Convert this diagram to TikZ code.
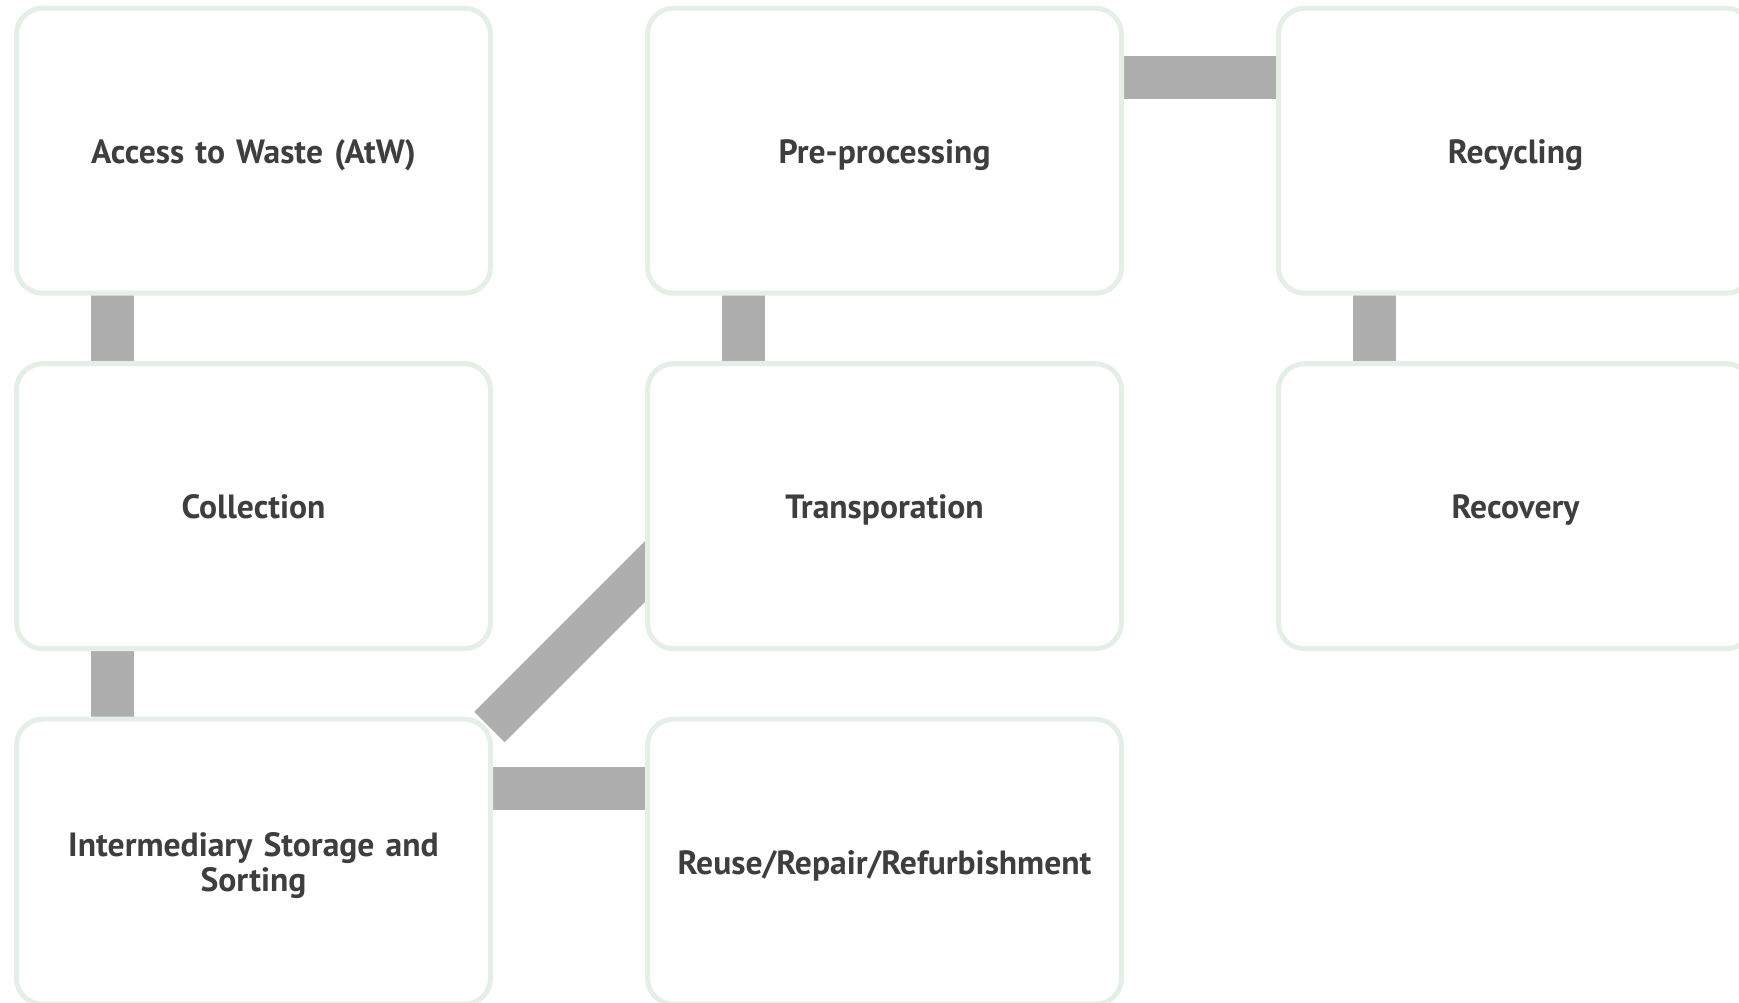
\documentclass[tikz,border=0pt]{standalone}
\usepackage{fontspec}
\setmainfont{PT Sans}
\usetikzlibrary{backgrounds,calc}
\definecolor{boxline}{RGB}{228,240,230}
\definecolor{connfill}{RGB}{174,174,174}
\definecolor{txt}{RGB}{62,62,62}
\newcommand{\boxstrut}{\rule[-4pt]{0pt}{20.5pt}}
\newcommand{\boxstrutend}{\rule[-4pt]{0pt}{4pt}}
\tikzset{
  stagebox/.style={draw=boxline, line width=2.5pt, fill=white, rounded corners=13pt,
    minimum width=237pt, minimum height=142.5pt, inner sep=0pt, outer sep=0pt,
    align=center, text width=230pt, text=txt,
    font=\fontsize{16.8}{17.25}\selectfont\bfseries,
    execute at begin node=\boxstrut, execute at end node=\boxstrutend},
  conn/.style={draw=connfill, line width=21.5pt, line cap=butt}
}
\begin{document}
\begin{tikzpicture}[x=0.5pt,y=-0.5pt]
\useasboundingbox (0,0) rectangle (1739,1002);
\clip (0,0) rectangle (1739,1002);
\node[stagebox] (atw) at (253.5,150.7) {Access to Waste (AtW)};
\node[stagebox] (col) at (253.5,506.2) {Collection};
\node[stagebox] (iss) at (253.5,861.7) {Intermediary Storage and\\Sorting};
\node[stagebox] (pre) at (884.5,150.7) {Pre-processing};
\node[stagebox] (tra) at (884.5,506.2) {Transporation};
\node[stagebox] (reu) at (884.5,861.7) {Reuse/Repair/Refurbishment};
\node[stagebox] (rec) at (1515.5,150.7) {Recycling};
\node[stagebox] (rcv) at (1515.5,506.2) {Recovery};
\coordinate (d1) at ([shift={(118pt,67.35pt)}]iss.center);
\coordinate (d2) at ($(d1)+(45:140pt)$);
\begin{scope}[on background layer]
\draw[conn] ([xshift=-70.5pt]atw.south) -- ([xshift=-70.5pt]col.north);
\draw[conn] ([xshift=-70.5pt]col.south) -- ([xshift=-70.5pt]iss.north);
\draw[conn] ([xshift=-70.5pt]pre.south) -- ([xshift=-70.5pt]tra.north);
\draw[conn] ([xshift=-70.5pt]rec.south) -- ([xshift=-70.5pt]rcv.north);
\draw[conn] ([yshift=36.5pt]pre.east) -- ([yshift=36.5pt]rec.west);
\draw[conn] ([yshift=36.5pt]iss.east) -- ([yshift=36.5pt]reu.west);
\draw[conn] (d1) -- (d2);
\end{scope}
\end{tikzpicture}
\end{document}
